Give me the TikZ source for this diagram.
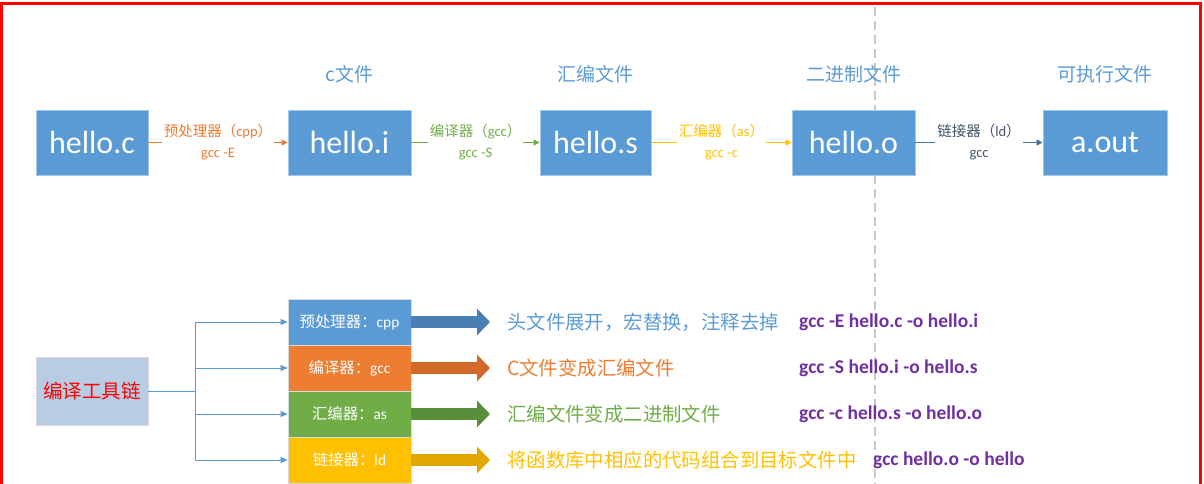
\documentclass[tikz,border=0pt]{standalone}
\usepackage{fontspec}
\setmainfont{Carlito}
\newfontfamily\cjk{Noto Sans CJK SC}
\usetikzlibrary{arrows.meta}
\definecolor{cblue}{HTML}{5B9BD5}
\definecolor{corange}{HTML}{ED7D31}
\definecolor{cgreen}{HTML}{70AD47}
\definecolor{cgold}{HTML}{FFC000}
\definecolor{cslate}{HTML}{44546A}
\definecolor{clink}{HTML}{41719C}
\definecolor{cpurple}{HTML}{7030A0}
\definecolor{dblue}{HTML}{4A7EB5}
\definecolor{dorange}{HTML}{D2692A}
\definecolor{dgreen}{HTML}{5A8E3A}
\definecolor{dgold}{HTML}{E0A800}
\definecolor{toolbg}{HTML}{B8CCE4}
\definecolor{dashgray}{HTML}{C8C8C8}
\definecolor{frame}{HTML}{FF0000}
\begin{document}
\begin{tikzpicture}[x=1pt,y=-1pt,
  filebox/.style={fill=cblue, draw=cblue!55!white, line width=0.8pt, text=white,
    minimum height=65pt, inner sep=0pt, font=\fontsize{32}{36}\selectfont},
  ftitle/.style={text=cblue, inner sep=0pt, font=\cjk\fontsize{19}{22}\selectfont},
  elab/.style={fill=white, inner sep=2pt, align=center, font=\fontsize{14.5}{21}\selectfont},
  flow/.style={line width=1.5pt, -{Triangle[length=6pt,width=6pt]}},
  stackbox/.style={minimum width=123pt, minimum height=46pt, inner sep=0pt,
    draw=white!85!black, line width=0.8pt, text=white, font=\fontsize{15.4}{17}\selectfont},
  fat/.style={line width=12pt, -{Triangle[length=13pt,width=26pt]}},
  desc/.style={anchor=west, inner sep=0pt, font=\cjk\fontsize{19.4}{22}\selectfont},
  cmd/.style={anchor=west, inner sep=0pt, text=cpurple, font=\bfseries\fontsize{19.5}{22}\selectfont},
  branch/.style={draw=cblue, line width=0.8pt, -{Triangle[length=7pt,width=6pt]}}
]
\useasboundingbox (0,0) rectangle (1204,484);

% dashed separator
\coordinate (dtop) at (875,7);
\coordinate (dbot) at (875,484);
\draw[dashgray, line width=1.5pt, dash pattern=on 9pt off 5pt] (dtop) -- (dbot);

% frame
\draw[frame, line width=3pt] (1.5,484) -- (1.5,4) -- (1200.5,4) -- (1200.5,484);

% top row of files
\node[filebox, minimum width=112pt] (hc) at (92,142.5) {hello.c};
\node[filebox, minimum width=123pt] (hi) at (349.5,142.5) {hello.i};
\node[filebox, minimum width=111pt] (hs) at (595.5,142.5) {hello.s};
\node[filebox, minimum width=123pt] (ho) at (853.5,142.5) {hello.o};
\node[filebox, minimum width=124pt] (ao) at (1105,142.5) {a.out};

\node[ftitle] (ti) at (349.5,74) {c{\cjk 文件}};
\node[ftitle] (ts) at (595.5,74) {汇编文件};
\node[ftitle] (to) at (853.5,74) {二进制文件};
\node[ftitle] (ta) at (1105,74) {可执行文件};

\draw[flow, corange] (hc) -- node[elab, text=corange] {{\cjk 预处理器（}cpp{\cjk ）}\\gcc -E} (hi);
\draw[flow, cgreen] (hi) -- node[elab, text=cgreen] {{\cjk 编译器（}gcc{\cjk ）}\\gcc -S} (hs);
\draw[flow, cgold] (hs) -- node[elab, text=cgold] {{\cjk 汇编器（}as{\cjk ）}\\gcc -c} (ho);
\draw[flow, clink] (ho) -- node[elab, text=cslate] {{\cjk 链接器（}ld{\cjk ）}\\gcc} (ao);

% tool chain
\node[fill=toolbg, draw=black!15, line width=0.8pt, minimum width=112pt, minimum height=68pt,
  inner sep=0pt, text=frame, font=\cjk\fontsize{19.5}{22}\selectfont] (tool) at (92,391) {编译工具链};

\node[stackbox, fill=cblue] (s1) at (349.5,322) {{\cjk 预处理器：}cpp};
\node[stackbox, fill=corange] (s2) at (349.5,368) {{\cjk 编译器：}gcc};
\node[stackbox, fill=cgreen] (s3) at (349.5,414) {{\cjk 汇编器：}as};
\node[stackbox, fill=cgold] (s4) at (349.5,460) {{\cjk 链接器：}ld};

\coordinate (bx) at (195,391);
\draw[cblue, line width=0.8pt] (tool.east) -- (bx);
\draw[branch] (bx) |- (s1.west);
\draw[branch] (bx) |- (s2.west);
\draw[branch] (bx) |- (s3.west);
\draw[branch] (bx) |- (s4.west);

\coordinate (t1) at (490,322);
\coordinate (t2) at (490,368);
\coordinate (t3) at (490,414);
\coordinate (t4) at (490,460);
\draw[fat, dblue] (s1.east) -- (t1);
\draw[fat, dorange] (s2.east) -- (t2);
\draw[fat, dgreen] (s3.east) -- (t3);
\draw[fat, dgold] (s4.east) -- (t4);

\node[desc, text=cblue] (d1) at (507,322) {头文件展开，宏替换，注释去掉};
\node[desc, text=corange] (d2) at (507,368) {C{\cjk 文件变成汇编文件}};
\node[desc, text=cgreen] (d3) at (507,414) {汇编文件变成二进制文件};
\node[desc, text=cgold] (d4) at (507,460) {将函数库中相应的代码组合到目标文件中};

\node[cmd] (c1) at (799,322) {gcc -E hello.c -o hello.i};
\node[cmd] (c2) at (799,368) {gcc -S hello.i -o hello.s};
\node[cmd] (c3) at (799,414) {gcc -c hello.s -o hello.o};
\node[cmd] (c4) at (873,460) {gcc hello.o -o hello};
\end{tikzpicture}
\end{document}
